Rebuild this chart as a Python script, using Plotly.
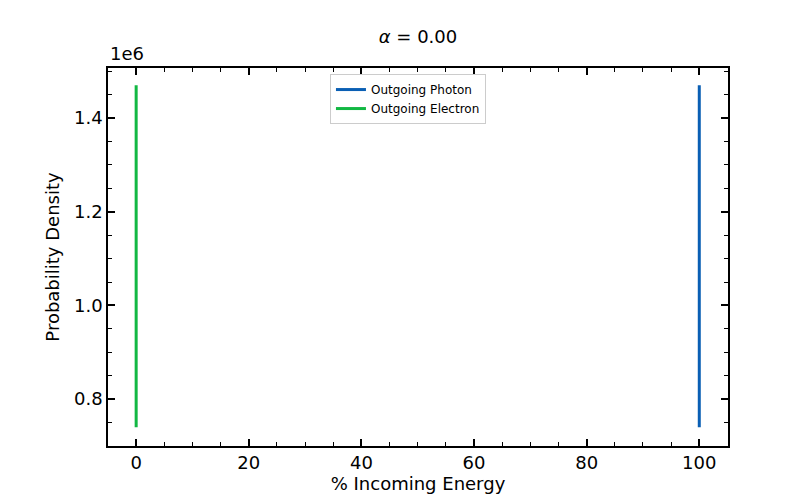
import plotly.graph_objects as go

# values in units of 1e6
photon_x = [100, 100]
photon_y = [0.74, 1.47]
electron_x = [0, 0]
electron_y = [0.74, 1.47]

fig = go.Figure()
fig.add_trace(go.Scatter(x=photon_x, y=photon_y, mode="lines", name="Outgoing Photon",
                         line=dict(color="#0a5fb4", width=3)))
fig.add_trace(go.Scatter(x=electron_x, y=electron_y, mode="lines", name="Outgoing Electron",
                         line=dict(color="#12b843", width=3)))

axis_common = dict(showgrid=False, zeroline=False, showline=True, linecolor="black", linewidth=1.5,
                   mirror="ticks", ticks="inside", ticklen=7, tickwidth=1.5, tickcolor="black",
                   tickfont=dict(size=18, color="black"))
minor_style = dict(ticks="inside", ticklen=4, tickwidth=1, tickcolor="black")

fig.update_xaxes(range=[-5, 105.1], dtick=20, minor=dict(dtick=5, **minor_style),
                 title=dict(text="% Incoming Energy", font=dict(size=18, color="black"), standoff=4),
                 **axis_common)
fig.update_yaxes(range=[0.7, 1.507], tickvals=[0.8, 1.0, 1.2, 1.4], ticktext=["0.8", "1.0", "1.2", "1.4"],
                 minor=dict(tickvals=[0.7 + 0.05 * i for i in range(17)], **minor_style),
                 title=dict(text="Probability Density", font=dict(size=18, color="black"), standoff=10),
                 **axis_common)

fig.update_layout(
    width=800, height=500, plot_bgcolor="white", paper_bgcolor="white",
    margin=dict(l=100, r=80, t=60, b=62),
    font=dict(family="DejaVu Sans", color="black"),
    title=dict(text="<i>α</i> = 0.00", x=0.5125, xanchor="center", y=0.955, yanchor="top",
               font=dict(size=18)),
    legend=dict(x=0.358, y=0.984, xanchor="left", yanchor="top", bordercolor="#cccccc",
                borderwidth=1, font=dict(size=12), bgcolor="white", tracegroupgap=0),
    annotations=[dict(text="1e6", xref="paper", yref="paper", x=0, y=1.005, xanchor="left",
                      yanchor="bottom", showarrow=False, font=dict(size=18))],
)

fig.write_html("out.html")
